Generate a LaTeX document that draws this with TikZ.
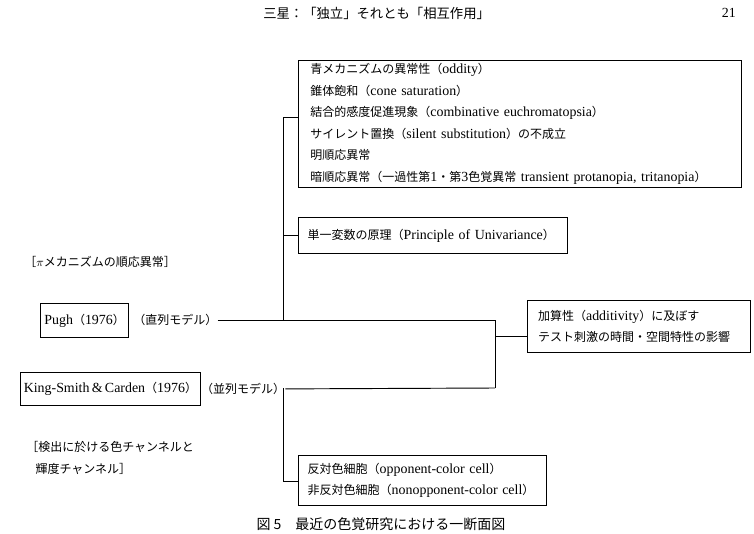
\documentclass[tikz,border=0pt]{standalone}
\usepackage{fontspec}
\setmainfont[Scale=1.16, WordSpace=1.35]{Liberation Serif}
\newfontfamily\jpfont{Noto Sans CJK JP}
\newcommand\jp[1]{{\jpfont #1}}
\usetikzlibrary{positioning}

\tikzset{
  box/.style={draw, line width=0.6pt, anchor=north west, align=left,
    inner xsep=9pt, inner ysep=0pt},
  conn/.style={line width=0.7pt},
  note/.style={anchor=west, inner sep=0pt, align=left}
}

\begin{document}
\begin{tikzpicture}[x=0.75pt, y=-0.75pt,
    font=\fontsize{9}{16.2}\selectfont]
  \useasboundingbox (0,0) rectangle (754,533);

  % 柱
  \node[anchor=west, inner sep=0pt, font=\fontsize{10}{12}\selectfont] (head) at (263,13)
    {\jp{三星：「独立」それとも「相互作用」}};
  \node[anchor=east, inner sep=0pt] (page) at (736,13) {21};

  % 右側の箱
  \node[box, text width=314pt, minimum height=95.25pt] (syms) at (298,60)
    {\jp{青メカニズムの異常性（}oddity\jp{）}\\
     \jp{錐体飽和（}cone saturation\jp{）}\\
     \jp{結合的感度促進現象（}combinative euchromatopsia\jp{）}\\
     \jp{サイレント置換（}silent substitution\jp{）の不成立}\\
     \jp{明順応異常}\\
     \jp{暗順応異常（一過性第}1\jp{・第}3\jp{色覚異常} transient protanopia, tritanopia\jp{）}};
  \node[box, text width=187.75pt, inner xsep=7pt, minimum height=27pt] (univ) at (298,217)
    {\jp{単一変数の原理（}Principle of Univariance\jp{）}};
  \node[box, text width=151.25pt, inner xsep=8pt, minimum height=39pt] (addi) at (527,300)
    {\jp{加算性（}additivity\jp{）に及ぼす}\\
     \jp{テスト刺激の時間・空間特性の影響}};
  \node[box, text width=172pt, inner xsep=7pt, minimum height=37.5pt] (cell) at (298,455)
    {\jp{反対色細胞（}opponent-color cell\jp{）}\\
     \jp{非反対色細胞（}nonopponent-color cell\jp{）}};

  % 左側のモデル
  \node[box, align=center, inner xsep=3pt, minimum width=65.25pt, minimum height=25.5pt] (pugh) at (40,303)
    {Pugh\jp{（}1976\jp{）}};
  \node[note] (pughm) at (133,320) {\jp{（直列モデル）}};
  \node[box, align=center, inner xsep=0pt, minimum width=135pt, minimum height=24.75pt] (king) at (20,372)
    {King-Smith\,\&\,Carden\jp{（}1976\jp{）}};
  \node[note] (kingm) at (king.east) {\jp{（並列モデル）}};

  % 注記
  \node[note] (pinote) at (24,262) {\jp{［}$\pi$\jp{メカニズムの順応異常］}};
  \node[note] (chnote) at (26,458)
    {\jp{［検出に於ける色チャンネルと}\\\hspace*{7pt}\jp{輝度チャンネル］}};

  % 結線
  \coordinate (tl) at (283,117);
  \coordinate (tp) at (283,320);
  \coordinate (tk) at (283,388);
  \coordinate (tb) at (283,481);
  \coordinate (ja) at (495,320);
  \coordinate (jb) at (495,388);
  \coordinate (jc) at (495,336);
  \draw[conn] (pughm.east) -- (ja) -- (jb);
  \draw[conn] (kingm.east) -- (jb);
  \draw[conn] (tp) -- (tl) -- (tl -| syms.west);
  \draw[conn] (tp |- univ.west) -- (univ.west);
  \draw[conn] (tk) -- (tb) -- (tb -| cell.west);
  \draw[conn] (jc) -- (jc -| addi.west);

  % 図題
  \node[inner sep=0pt, font=\fontsize{10.5}{12}\selectfont] (cap) at (381,524)
    {\jp{図 5\quad 最近の色覚研究における一断面図}};
\end{tikzpicture}
\end{document}
